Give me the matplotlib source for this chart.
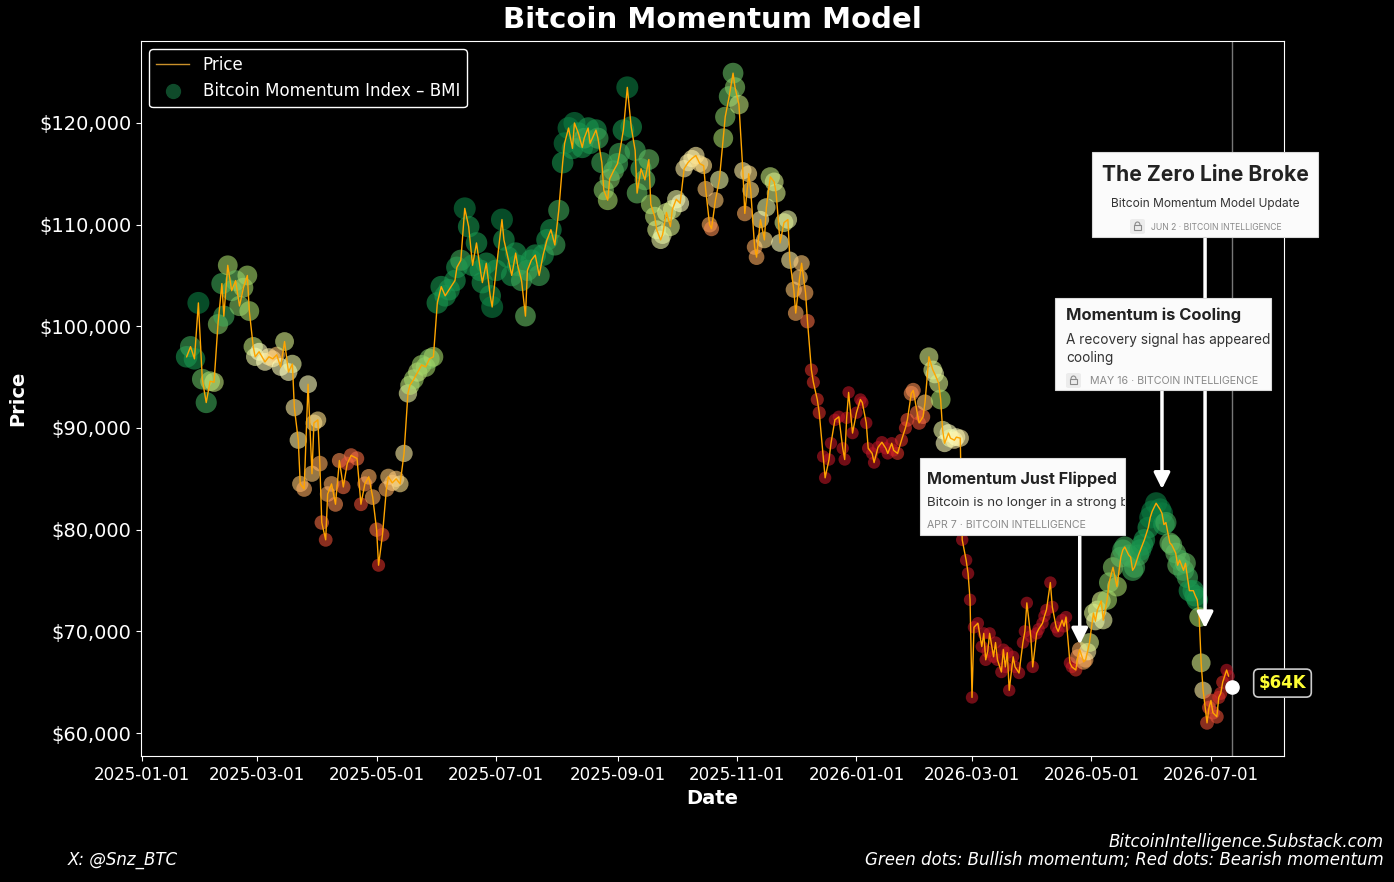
import numpy as np
import pandas as pd
import matplotlib
matplotlib.use('Agg')
import matplotlib.pyplot as plt
import matplotlib.dates as mdates
from matplotlib.patches import Rectangle, FancyBboxPatch, Arc
from matplotlib.lines import Line2D
from matplotlib.ticker import FuncFormatter
from matplotlib.transforms import blended_transform_factory

# days since 2025-01-01
day = [23, 25, 27, 29, 31, 33, 35, 37, 39, 41,
       42, 44, 46, 48, 50, 52, 54, 55, 57, 58,
       60, 63, 65, 67, 69, 71, 73, 75, 77, 78,
       80, 81, 83, 85, 87, 88, 90, 91, 92, 94,
       95, 97, 99, 101, 103, 105, 107, 110, 112, 114,
       116, 118, 120, 121, 123, 125, 126, 128, 130, 132,
       134, 136, 137, 139, 141, 143, 145, 147, 149, 151,
       153, 155, 157, 160, 161, 163, 165, 167, 169, 171,
       173, 174, 176, 178, 179, 181, 184, 185, 187, 189,
       191, 192, 194, 196, 197, 199, 201, 203, 205, 207,
       209, 211, 213, 215, 216, 218, 220, 221, 223, 225,
       226, 228, 229, 232, 233, 235, 236, 238, 239, 241,
       243, 244, 246, 248, 250, 252, 253, 255, 257, 259,
       260, 262, 263, 265, 266, 268, 270, 271, 273, 275,
       277, 279, 281, 283, 285, 287, 288, 290, 291, 293,
       295, 297, 298, 300, 302, 303, 305, 307, 308, 310,
       311, 313, 314, 316, 318, 319, 321, 323, 324, 326,
       328, 330, 331, 333, 334, 336, 337, 339, 340, 342,
       343, 345, 346, 348, 349, 351, 352, 354, 356, 358,
       359, 360, 361, 363, 365, 367, 368, 370, 371, 373,
       374, 376, 378, 380, 381, 383, 384, 386, 388, 390,
       391, 393, 394, 396, 397, 399, 400, 402, 404, 405,
       407, 408, 409, 410, 412, 413, 415, 416, 418, 419,
       421, 422, 423, 424, 425, 427, 429, 430, 431, 432,
       433, 435, 436, 437, 439, 440, 441, 442, 443, 445,
       446, 448, 450, 451, 452, 454, 455, 457, 458, 460,
       461, 462, 464, 465, 467, 468, 470, 471, 472, 474,
       475, 477, 478, 479, 481, 482, 483, 484, 486, 487,
       488, 490, 491, 493, 494, 496, 498, 500, 501, 502,
       504, 505, 506, 507, 509, 510, 511, 512, 514, 515,
       516, 518, 520, 521, 522, 523, 525, 526, 528, 529,
       530, 532, 533, 534, 535, 537, 538, 539, 540, 541,
       542, 544, 545, 546, 547, 549, 550, 551, 552, 554,
       555]

# price in thousands of dollars
price_k = [97.0, 98.0, 96.8, 102.3, 94.8, 92.5, 94.6, 94.5, 100.2, 104.2,
           101.0, 106.0, 103.5, 104.5, 102.0, 103.8, 105.0, 101.5, 98.0, 97.0,
           97.5, 96.5, 97.0, 96.8, 97.2, 96.0, 98.5, 95.5, 96.3, 92.0,
           88.8, 84.5, 84.0, 94.3, 85.5, 90.5, 90.8, 86.5, 80.7, 79.0,
           83.5, 84.5, 82.5, 86.8, 84.2, 86.5, 87.3, 87.0, 82.5, 84.5,
           85.2, 83.2, 80.0, 76.5, 79.5, 84.0, 85.2, 84.6, 85.0, 84.5,
           87.5, 93.4, 94.2, 94.8, 95.5, 96.2, 96.0, 96.8, 97.0, 102.3,
           103.9, 103.0, 103.6, 104.5, 105.8, 106.5, 111.6, 109.8, 106.0, 108.2,
           105.5, 104.3, 106.2, 103.0, 101.9, 105.5, 110.5, 108.5, 106.8, 105.0,
           107.2, 106.0, 104.5, 101.0, 105.5, 106.5, 107.0, 105.0, 107.0, 108.5,
           109.5, 108.0, 111.4, 116.1, 118.0, 119.5, 117.5, 120.0, 119.0, 117.6,
           118.5, 119.5, 118.0, 119.3, 118.5, 116.1, 113.4, 112.4, 114.5, 115.3,
           116.0, 117.0, 119.3, 123.5, 119.6, 117.3, 113.1, 115.5, 114.4, 116.4,
           112.0, 110.8, 109.5, 108.5, 109.0, 111.2, 109.8, 111.5, 112.5, 112.1,
           115.5, 116.1, 116.5, 116.8, 116.0, 115.8, 113.5, 110.0, 109.6, 112.4,
           114.4, 118.5, 120.6, 122.6, 124.9, 123.5, 121.8, 115.3, 111.1, 115.0,
           113.4, 107.8, 106.8, 110.5, 108.5, 111.7, 114.7, 114.2, 113.1, 108.2,
           110.2, 110.5, 106.5, 103.6, 101.3, 104.8, 106.2, 103.3, 100.5, 95.7,
           94.5, 92.8, 91.5, 87.2, 85.1, 86.9, 88.5, 90.8, 91.1, 88.0,
           86.9, 91.0, 93.5, 89.5, 91.5, 92.8, 92.5, 90.5, 88.0, 87.5,
           86.6, 88.1, 88.6, 88.0, 87.5, 88.5, 87.8, 87.5, 88.8, 90.0,
           90.8, 93.4, 93.7, 91.5, 90.5, 91.1, 92.5, 97.0, 95.7, 95.3,
           94.4, 92.8, 89.8, 88.5, 89.5, 89.0, 88.8, 89.1, 89.0, 79.0,
           77.0, 75.7, 73.1, 63.5, 70.4, 70.8, 68.5, 69.8, 67.2, 68.0,
           69.8, 67.5, 68.9, 67.2, 66.0, 68.2, 66.5, 67.9, 64.2, 67.5,
           66.5, 65.9, 68.9, 70.0, 72.8, 69.5, 66.5, 69.8, 70.2, 70.8,
           71.5, 72.1, 74.8, 72.4, 70.4, 70.0, 71.1, 70.5, 71.4, 66.9,
           66.5, 66.2, 67.5, 68.2, 67.0, 67.2, 68.0, 68.9, 71.8, 71.0,
           72.1, 73.0, 71.1, 73.1, 74.8, 76.3, 74.4, 77.3, 78.0, 78.3,
           77.5, 77.3, 76.0, 76.3, 77.5, 78.0, 78.5, 79.0, 80.2, 81.2,
           81.8, 82.6, 82.0, 81.6, 80.5, 80.7, 78.7, 78.5, 77.7, 76.5,
           77.0, 76.0, 76.7, 75.3, 74.0, 74.0, 73.5, 73.1, 71.4, 66.9,
           64.2, 61.0, 62.5, 63.2, 62.0, 61.6, 63.5, 63.9, 65.0, 66.2,
           65.6]

# momentum index scaled 0 (bearish) .. 1 (bullish)
bmi = [.90, .85, .90, .95, .80, .85, .70, .65, .75, .85,
       .85, .70, .80, .80, .75, .70, .70, .70, .65, .55,
       .50, .50, .45, .40, .35, .50, .60, .50, .55, .45,
       .45, .35, .30, .50, .35, .40, .40, .30, .20, .15,
       .30, .30, .25, .25, .20, .15, .20, .20, .15, .25,
       .30, .30, .20, .10, .15, .30, .35, .35, .35, .40,
       .45, .55, .65, .70, .65, .70, .70, .75, .70, .90,
       .90, .90, .90, .90, .90, .85, .95, .90, .90, .90,
       .90, .90, .90, .90, .95, .90, .95, .90, .90, .90,
       .90, .90, .85, .80, .85, .90, .90, .85, .90, .90,
       .90, .85, .85, .90, .95, .95, .90, .95, .90, .90,
       .80, .90, .90, .90, .85, .85, .75, .70, .75, .80,
       .85, .85, .90, .95, .90, .85, .80, .85, .80, .80,
       .70, .65, .60, .55, .55, .60, .60, .60, .55, .50,
       .45, .45, .45, .45, .40, .40, .35, .30, .25, .35,
       .55, .70, .75, .80, .80, .75, .65, .45, .30, .40,
       .40, .30, .30, .45, .40, .55, .65, .60, .60, .50,
       .60, .55, .45, .35, .30, .35, .35, .30, .20, .10,
       .10, .10, .10, .05, .05, .05, .05, .05, .05, .05,
       .05, .05, .05, .05, .05, .05, .05, .05, .05, .05,
       .05, .05, .05, .05, .05, .05, .05, .10, .10, .10,
       .15, .25, .25, .20, .15, .20, .35, .60, .60, .55,
       .60, .70, .55, .50, .50, .55, .45, .50, .45, .05,
       .05, .05, .05, .05, .05, .05, .05, .05, .05, .05,
       .05, .05, .05, .05, .05, .05, .05, .05, .05, .05,
       .05, .05, .05, .05, .05, .05, .05, .05, .05, .05,
       .05, .05, .05, .05, .05, .05, .05, .05, .05, .05,
       .05, .10, .25, .30, .30, .30, .45, .60, .60, .55,
       .60, .60, .55, .70, .75, .75, .70, .80, .85, .85,
       .85, .85, .85, .85, .85, .90, .90, .90, .90, .95,
       .95, .95, .95, .95, .90, .85, .80, .80, .80, .80,
       .85, .85, .80, .85, .90, .90, .90, .90, .70, .60,
       .45, .15, .15, .15, .15, .15, .10, .10, .10, .05,
       .05]

current_day = 557
current_price = 64500

# post cards (figure pixel layout) and the day / price their arrows point to
posts = [
    dict(title='Momentum Just Flipped', sub=['Bitcoin is no longer in a strong bullish trend'],
         meta='APR 7 · BITCOIN INTELLIGENCE', box=(920, 458, 1125, 535), lock=None,
         title_xy=(927, 479), sub_y=[503], meta_xy=(927, 525), ha='left',
         tsize=11.6, ssize=9.6, msize=7.6, tip_day=479, tip_price=68700),
    dict(title='Momentum is Cooling', sub=['A recovery signal has appeared, but momentum is', 'cooling'],
         meta='MAY 16 · BITCOIN INTELLIGENCE', box=(1055, 298, 1271, 390), lock=(1066, 373),
         title_xy=(1066, 315), sub_y=[340, 358], meta_xy=(1090, 381), ha='left',
         tsize=11.9, ssize=9.8, msize=7.7, tip_day=521, tip_price=84000),
    dict(title='The Zero Line Broke', sub=['Bitcoin Momentum Model Update'],
         meta='JUN 2 · BITCOIN INTELLIGENCE', box=(1092, 152, 1318, 237), lock=(1130, 219),
         title_xy=(1205, 175), sub_y=[204], meta_xy=(1151, 227), ha='center',
         tsize=15.2, ssize=8.6, msize=6.2, tip_day=543, tip_price=70300),
]

W, H = 1394, 882
start = pd.Timestamp('2025-01-01')
dates = start + pd.to_timedelta(day, unit='D')
price = np.array(price_k) * 1000
bmi = np.array(bmi)
cur_date = start + pd.Timedelta(days=current_day)

fig = plt.figure(figsize=(W / 100, H / 100), dpi=100, facecolor='black')
ax = fig.add_axes([141 / W, 1 - 756 / H, (1284 - 141) / W, (756 - 41) / H])
ax.set_facecolor('black')

ax.scatter(dates, price, c=bmi, cmap='RdYlGn', vmin=0, vmax=1, s=70 + 190 * bmi,
           alpha=0.6, edgecolors='none', zorder=2)
ln, = ax.plot(dates, price, color='#ffa500', lw=1.0, zorder=3)

ax.axvline(cur_date, color='#777777', lw=1, zorder=1)
ax.scatter([cur_date], [current_price], color='white', s=90, zorder=5)
ax.annotate('$64K', xy=(cur_date, current_price), xytext=(36, 3), textcoords='offset points',
            ha='center', va='center', color='#ffff33', fontsize=12, fontweight='bold',
            bbox=dict(boxstyle='round,pad=0.3', fc='black', ec='#cccccc', lw=1.2), zorder=6)

ax.set_xlim(start - pd.Timedelta(days=0.3), start + pd.Timedelta(days=583.3))
ax.set_ylim(57740, 128060)
ax.xaxis.set_major_locator(mdates.MonthLocator(bymonth=[1, 3, 5, 7, 9, 11]))
ax.xaxis.set_major_formatter(mdates.DateFormatter('%Y-%m-%d'))
ax.yaxis.set_major_formatter(FuncFormatter(lambda v, p: f'${v:,.0f}'))
ax.tick_params(axis='y', colors='white', labelsize=14)
ax.tick_params(axis='x', colors='white', labelsize=12)
for s in ax.spines.values():
    s.set_color('white')

dot = Line2D([], [], ls='none', marker='o', markersize=10, color='#0f4a2a')
leg = ax.legend([ln, dot], ['Price', 'Bitcoin Momentum Index – BMI'], loc='upper left',
                fontsize=12, facecolor='black', edgecolor='white', framealpha=1, labelcolor='white')
leg.get_lines()[0].set_color('#c9902a')
leg.set_zorder(20)

fig.text(712.5 / W, 1 - 20 / H, 'Bitcoin Momentum Model', ha='center', va='center',
         color='white', fontsize=21, fontweight='bold')
fig.text(712.5 / W, 1 - 799 / H, 'Date', ha='center', va='center', color='white',
         fontsize=14, fontweight='bold')
fig.text(18 / W, 1 - 398 / H, 'Price', ha='center', va='center', rotation=90, color='white',
         fontsize=14, fontweight='bold')

fig.text(68 / W, 1 - 860 / H, 'X: @Snz_BTC', ha='left', va='center', color='white',
         fontsize=12, style='italic')
fig.text(1384 / W, 1 - 842 / H, 'BitcoinIntelligence.Substack.com', ha='right', va='center',
         color='white', fontsize=12, style='italic')
fig.text(1384 / W, 1 - 860 / H, 'Green dots: Bullish momentum; Red dots: Bearish momentum',
         ha='right', va='center', color='white', fontsize=12, style='italic')

card_font = ['Inter', 'DejaVu Sans']
data_x_fig_y = blended_transform_factory(ax.transData, fig.transFigure)

def fx(x):
    return x / W

def fy(y):
    return 1 - y / H

for i, p in enumerate(posts):
    x0, y0, x1, y1 = p['box']
    z = 10 + i * 3
    tip_date = start + pd.Timedelta(days=p['tip_day'])
    ax.annotate('', xy=(tip_date, p['tip_price']),
                xytext=(mdates.date2num(tip_date), fy(y1)), textcoords=data_x_fig_y,
                arrowprops=dict(arrowstyle='-|>', color='white', lw=2.5, mutation_scale=24,
                                shrinkA=0, shrinkB=0), zorder=8)
    rect = Rectangle((fx(x0), fy(y1)), fx(x1 - x0), (y1 - y0) / H, transform=fig.transFigure,
                     fc='#fbfbfb', ec='#d8d8d8', lw=0.8, zorder=z)
    fig.add_artist(rect)

    tx, ty = p['title_xy']
    t = fig.text(fx(tx), fy(ty), p['title'], ha=p['ha'], va='center', color='#222222',
                 fontsize=p['tsize'], fontweight='bold', family=card_font, zorder=z + 1)
    t.set_clip_path(rect)
    for line, sy in zip(p['sub'], p['sub_y']):
        t = fig.text(fx(tx), fy(sy), line, ha=p['ha'], va='center', color='#333333',
                     fontsize=p['ssize'], family=card_font, zorder=z + 1)
        t.set_clip_path(rect)
    mx, my = p['meta_xy']
    t = fig.text(fx(mx), fy(my), p['meta'], ha='left', va='center', color='#8a8a8a',
                 fontsize=p['msize'], family=card_font, zorder=z + 1)
    t.set_clip_path(rect)

    if p['lock'] is not None:
        lx, ly = p['lock']
        fig.add_artist(FancyBboxPatch((fx(lx), fy(ly + 15)), fx(15), 15 / H,
                                      boxstyle='round,pad=0,rounding_size=0.002',
                                      transform=fig.transFigure, fc='#ececec', ec='none',
                                      zorder=z + 1))
        fig.add_artist(Rectangle((fx(lx + 4), fy(ly + 11)), fx(7), 5 / H,
                                 transform=fig.transFigure, fc='none', ec='#8a8a8a',
                                 lw=0.8, zorder=z + 2))
        fig.add_artist(Arc((fx(lx + 7.5), fy(ly + 6)), fx(5), 6 / H, theta1=0, theta2=180,
                           transform=fig.transFigure, ec='#8a8a8a', lw=0.8, zorder=z + 2))

fig.savefig('out.png', dpi=100, facecolor='black')
